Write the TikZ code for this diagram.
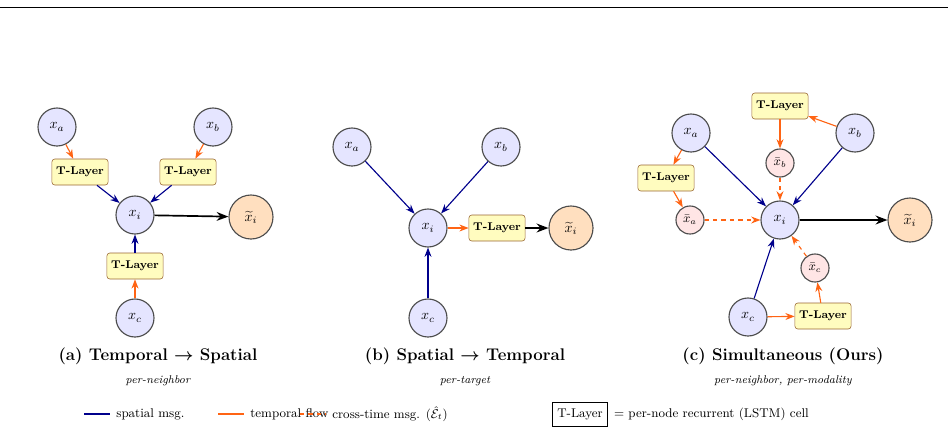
\documentclass[tikz,border=0pt]{standalone}
\usepackage{amsmath,amssymb}
\usetikzlibrary{arrows.meta,positioning}
\definecolor{spblue}{RGB}{0,0,140}
\definecolor{tmporange}{RGB}{255,100,20}
\tikzstyle{var} = [circle, draw=black!70, thick, fill=blue!10, minimum size=0.95cm, inner sep=0pt]
\tikzstyle{pred} = [circle, draw=black!70, thick, fill=orange!25, minimum size=1.1cm, inner sep=0pt]
\tikzstyle{bar} = [circle, draw=black!70, thick, fill=red!10, minimum size=0.7cm, inner sep=0pt, font=\small]
\tikzstyle{tl} = [rectangle, rounded corners=2pt, draw=brown!80!black, fill=yellow!25, font=\footnotesize\bfseries, inner sep=3pt, minimum height=0.65cm]
\tikzstyle{sp} = [->, >=Stealth, spblue, thick]
\tikzstyle{tf} = [->, >=Stealth, tmporange, thick]
\tikzstyle{ct} = [->, >=Stealth, tmporange, thick, dashed]
\tikzstyle{ro} = [->, >=Stealth, black, very thick]
\begin{document}
\begin{tikzpicture}[x=0.025cm, y=-0.025cm]
  \useasboundingbox (0,0) rectangle (948,436);
  \draw (0,7) -- (948,7);
  % (a)
  \node (a) at (57,127) [var] {$x_a$};
  \node (b) at (213,127) [var] {$x_b$};
  \node (ta) at (80,172) [tl] {T-Layer};
  \node (tb) at (188,172) [tl] {T-Layer};
  \node (i) at (135,215) [var] {$x_i$};
  \node (o) at (251,217) [pred] {$\widetilde{x}_i$};
  \node (tc) at (135,266) [tl] {T-Layer};
  \node (c) at (135,318) [var] {$x_c$};
  \draw [tf] (a) to (ta);
  \draw [tf] (b) to (tb);
  \draw [tf] (c) to (tc);
  \draw [sp] (ta) to (i);
  \draw [sp] (tb) to (i);
  \draw [sp] (tc) to (i);
  \draw [ro] (i) to (o);
  \node (capa) at (158,356) {\large\bfseries (a) Temporal $\boldsymbol{\rightarrow}$ Spatial};
  \node (suba) at (158,381) {\footnotesize\itshape per-neighbor};
  % (b)
  \node (a2) at (352,147) [var] {$x_a$};
  \node (b2) at (501,147) [var] {$x_b$};
  \node (i2) at (428,228) [var] {$x_i$};
  \node (t2) at (497,228) [tl] {T-Layer};
  \node (o2) at (571,228) [pred] {$\widetilde{x}_i$};
  \node (c2) at (428,318) [var] {$x_c$};
  \draw [sp] (a2) to (i2);
  \draw [sp] (b2) to (i2);
  \draw [sp] (c2) to (i2);
  \draw [tf] (i2) to (t2);
  \draw [ro] (t2) to (o2);
  \node (capb) at (465,356) {\large\bfseries (b) Spatial $\boldsymbol{\rightarrow}$ Temporal};
  \node (subb) at (465,381) {\footnotesize\itshape per-target};
  % (c)
  \node (a3) at (691,133) [var] {$x_a$};
  \node (b3) at (855,133) [var] {$x_b$};
  \node (tb3) at (780,106) [tl] {T-Layer};
  \node (xb3) at (780,163) [bar] {$\bar{x}_b$};
  \node (ta3) at (666,178) [tl] {T-Layer};
  \node (xa3) at (690,220) [bar] {$\bar{x}_a$};
  \node (i3) at (780,220) [var] {$x_i$};
  \node (o3) at (910,220) [pred] {$\widetilde{x}_i$};
  \node (xc3) at (815,268) [bar] {$\bar{x}_c$};
  \node (c3) at (748,317) [var] {$x_c$};
  \node (tc3) at (823,316) [tl] {T-Layer};
  \draw [sp] (a3) to (i3);
  \draw [sp] (b3) to (i3);
  \draw [sp] (c3) to (i3);
  \draw [tf] (a3) to (ta3);
  \draw [tf] (ta3) to (xa3);
  \draw [tf] (b3) to (tb3);
  \draw [tf] (tb3) to (xb3);
  \draw [tf] (c3) to (tc3);
  \draw [tf] (tc3) to (xc3);
  \draw [ct] (xa3) to (i3);
  \draw [ct] (xb3) to (i3);
  \draw [ct] (xc3) to (i3);
  \draw [ro] (i3) to (o3);
  \node (capc) at (783,356) {\large\bfseries (c) Simultaneous (Ours)};
  \node (subc) at (783,381) {\footnotesize\itshape per-neighbor, per-modality};
  % legend
  \coordinate (l1) at (84,414);  \coordinate (l1e) at (110,414);
  \coordinate (l2) at (218,414); \coordinate (l2e) at (244,414);
  \coordinate (l3) at (300,414); \coordinate (l3e) at (326,414);
  \draw [spblue, thick] (l1) -- (l1e);
  \node (t1) [right=1pt of l1e, font=\small] {spatial msg.};
  \draw [tmporange, thick] (l2) -- (l2e);
  \node (t2l) [right=1pt of l2e, font=\small] {temporal flow};
  \draw [tmporange, thick, dashed] (l3) -- (l3e);
  \node (t3) [right=1pt of l3e, font=\small] {cross-time msg. ($\hat{\mathcal{E}}_t$)};
  \node (box) at (580,414) [draw, font=\small, minimum height=0.6cm] {T-Layer};
  \node (t4) [right=1pt of box, font=\small] {= per-node recurrent (LSTM) cell};
\end{tikzpicture}
\end{document}
